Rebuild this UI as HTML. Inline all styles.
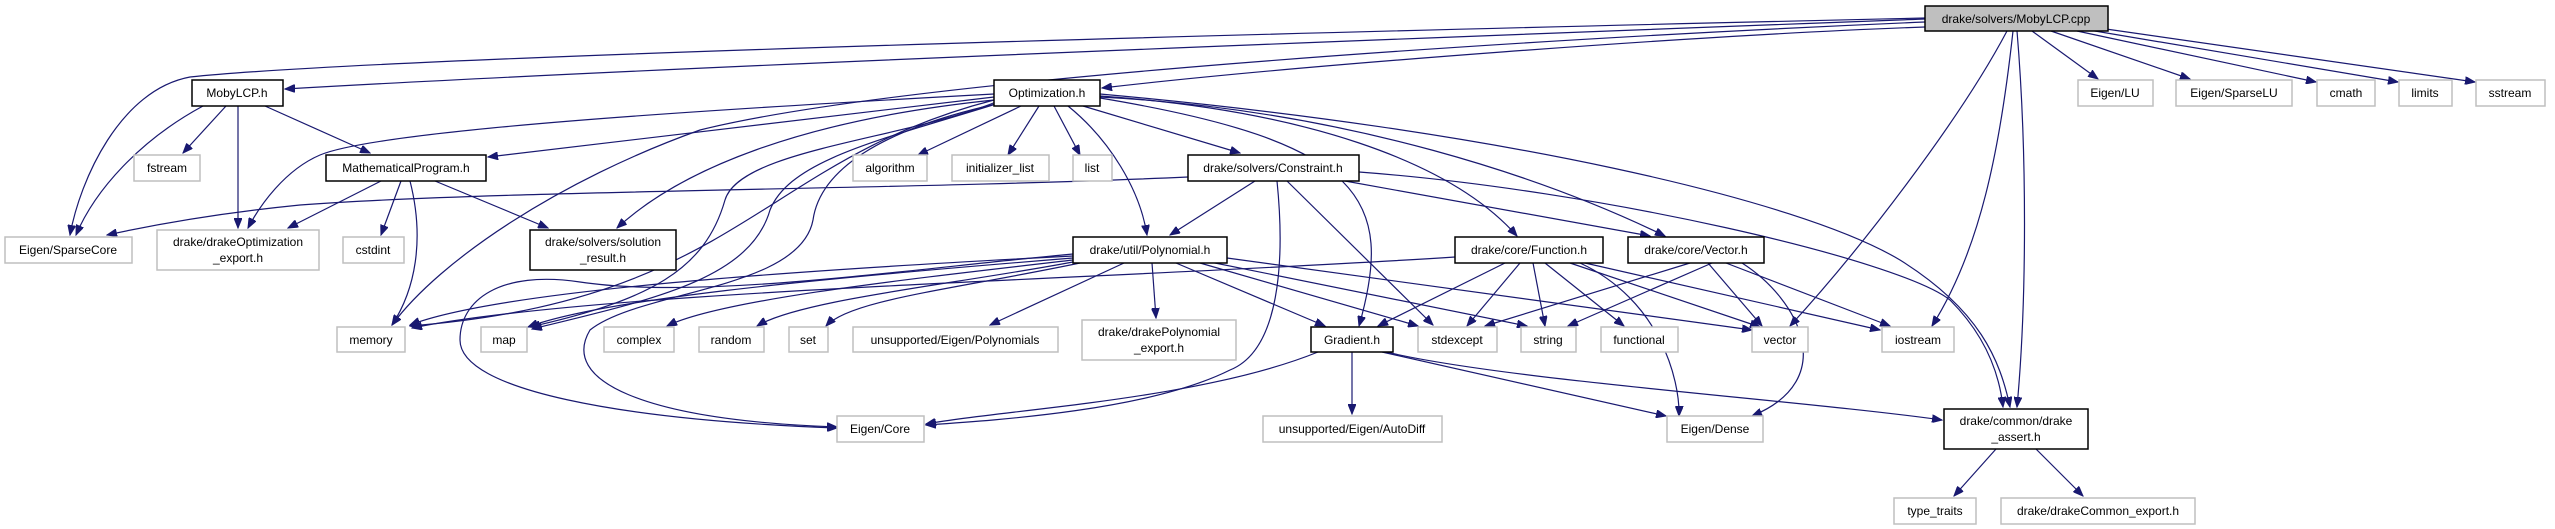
<!DOCTYPE html>
<html><head><meta charset="utf-8"><style>
html,body{margin:0;padding:0;background:#fff;}
svg{display:block;}
text{font-family:"Liberation Sans",Arial,sans-serif;font-size:12px;fill:#000;}
.g{fill:#fff;stroke:#bfbfbf;stroke-width:1.5;}
.b{fill:#fff;stroke:#000;stroke-width:1.5;}
path.e{fill:none;stroke:#191970;stroke-width:1.2;}
</style></head><body>
<svg width="2555" height="529" viewBox="0 0 2555 529" xmlns="http://www.w3.org/2000/svg">
<defs><marker id="a" markerWidth="11" markerHeight="8" refX="10" refY="4" orient="auto" markerUnits="userSpaceOnUse"><path d="M0,0 L10,4 L0,8 z" fill="#191970" stroke="#191970"/></marker></defs>
<g marker-end="url(#a)">
<path class="e" d="M1925,19 C1500,35 700,65 285,89"/>
<path class="e" d="M1925,18 C1400,30 400,55 190,77 C120,90 80,180 70,235"/>
<path class="e" d="M1925,27 C1700,35 1300,65 1102,88"/>
<path class="e" d="M1925,22 C1500,40 900,80 700,130 C560,180 440,260 392,325"/>
<path class="e" d="M2007,31 C1960,120 1860,250 1790,326"/>
<path class="e" d="M2013,31 C2000,150 1980,250 1932,326"/>
<path class="e" d="M2017,31 C2027,150 2027,300 2017,407"/>
<path class="e" d="M2032,31 L2098,79"/>
<path class="e" d="M2051,31 L2190,79"/>
<path class="e" d="M2077,31 L2316,82"/>
<path class="e" d="M2083,29 L2398,82"/>
<path class="e" d="M2106,29 L2475,82"/>
<path class="e" d="M203,106 C140,140 95,190 76,235"/>
<path class="e" d="M226,106 L183,153"/>
<path class="e" d="M238,106 L238,228"/>
<path class="e" d="M265,106 L370,153"/>
<path class="e" d="M381,181 L288,228"/>
<path class="e" d="M401,181 L381,235"/>
<path class="e" d="M410,181 C425,240 415,290 392,325"/>
<path class="e" d="M435,181 L548,228"/>
<path class="e" d="M994,94 C700,110 380,130 320,155 C285,170 260,205 248,228"/>
<path class="e" d="M994,97 L488,157"/>
<path class="e" d="M994,100 C800,120 680,170 617,228"/>
<path class="e" d="M994,100 C760,160 740,300 410,326"/>
<path class="e" d="M996,102 C900,140 740,150 725,200 C705,270 650,300 530,327"/>
<path class="e" d="M996,104 C880,140 790,160 770,210 C750,280 650,300 532,329"/>
<path class="e" d="M996,104 C880,130 820,170 813,220 C800,290 640,290 590,330 C560,380 640,420 837,427"/>
<path class="e" d="M1021,106 L918,155"/>
<path class="e" d="M1039,106 L1008,155"/>
<path class="e" d="M1054,106 L1080,155"/>
<path class="e" d="M1083,106 L1240,153"/>
<path class="e" d="M1068,106 C1110,140 1140,190 1147,235"/>
<path class="e" d="M1100,98 C1365,142 1395,200 1359,326"/>
<path class="e" d="M1100,96 C1300,110 1450,160 1517,236"/>
<path class="e" d="M1100,97 C1350,110 1550,180 1665,236"/>
<path class="e" d="M1100,94 C1500,130 1800,200 1900,260 C1980,310 2000,360 2010,407"/>
<path class="e" d="M1188,177 C900,190 500,190 300,205 C200,215 130,230 107,235"/>
<path class="e" d="M1255,181 L1170,235"/>
<path class="e" d="M1277,181 C1285,260 1280,350 1230,370 C1150,410 1000,420 926,425"/>
<path class="e" d="M1287,181 L1433,325"/>
<path class="e" d="M1345,181 L1650,236"/>
<path class="e" d="M1359,172 C1600,190 1900,260 1950,300 C1990,340 2000,380 2003,407"/>
<path class="e" d="M1073,256 C800,270 500,290 410,325"/>
<path class="e" d="M1073,258 C800,280 600,300 528,327"/>
<path class="e" d="M1073,260 C900,280 720,300 667,326"/>
<path class="e" d="M1073,262 C950,285 800,300 757,326"/>
<path class="e" d="M1080,263 C950,290 850,300 826,326"/>
<path class="e" d="M1124,263 L990,325"/>
<path class="e" d="M1152,263 L1156,318"/>
<path class="e" d="M1176,263 L1325,326"/>
<path class="e" d="M1200,263 L1418,326"/>
<path class="e" d="M1210,262 L1527,326"/>
<path class="e" d="M1227,258 L1752,330"/>
<path class="e" d="M1073,254 C900,270 700,300 580,282 C500,270 460,300 460,340 C460,390 620,420 837,428"/>
<path class="e" d="M1455,257 C1100,280 600,290 412,328"/>
<path class="e" d="M1505,263 L1378,326"/>
<path class="e" d="M1520,263 L1467,326"/>
<path class="e" d="M1533,263 L1545,326"/>
<path class="e" d="M1545,263 L1624,326"/>
<path class="e" d="M1570,263 L1760,327"/>
<path class="e" d="M1585,263 L1880,330"/>
<path class="e" d="M1580,263 C1660,300 1680,380 1679,416"/>
<path class="e" d="M1690,263 L1485,326"/>
<path class="e" d="M1712,263 L1568,326"/>
<path class="e" d="M1708,263 L1762,326"/>
<path class="e" d="M1726,263 L1890,326"/>
<path class="e" d="M1742,263 C1800,300 1840,380 1752,416"/>
<path class="e" d="M1318,352 C1200,400 1000,410 926,424"/>
<path class="e" d="M1352,352 L1352,414"/>
<path class="e" d="M1382,352 L1666,416"/>
<path class="e" d="M1382,351 C1500,380 1800,400 1942,420"/>
<path class="e" d="M1996,449 L1954,496"/>
<path class="e" d="M2036,449 L2083,496"/>
</g>
<g text-anchor="middle">
<rect x="1925" y="6" width="183" height="25" fill="#bfbfbf" stroke="#000" stroke-width="1.5"/><text x="2016" y="23">drake/solvers/MobyLCP.cpp</text>
<rect class="b" x="192" y="80" width="91" height="26"/><text x="237" y="97">MobyLCP.h</text>
<rect class="b" x="994" y="80" width="106" height="26"/><text x="1047" y="97">Optimization.h</text>
<rect class="g" x="2078" y="80" width="75" height="26"/><text x="2115" y="97">Eigen/LU</text>
<rect class="g" x="2176" y="80" width="116" height="26"/><text x="2234" y="97">Eigen/SparseLU</text>
<rect class="g" x="2317" y="80" width="58" height="26"/><text x="2346" y="97">cmath</text>
<rect class="g" x="2399" y="80" width="53" height="26"/><text x="2425" y="97">limits</text>
<rect class="g" x="2476" y="80" width="69" height="26"/><text x="2510" y="97">sstream</text>
<rect class="g" x="134" y="155" width="66" height="26"/><text x="167" y="172">fstream</text>
<rect class="b" x="326" y="155" width="160" height="26"/><text x="406" y="172">MathematicalProgram.h</text>
<rect class="g" x="853" y="155" width="74" height="26"/><text x="890" y="172">algorithm</text>
<rect class="g" x="952" y="155" width="97" height="26"/><text x="1000" y="172">initializer_list</text>
<rect class="g" x="1073" y="155" width="39" height="26"/><text x="1092" y="172">list</text>
<rect class="b" x="1188" y="155" width="171" height="26"/><text x="1273" y="172">drake/solvers/Constraint.h</text>
<rect class="g" x="5" y="237" width="127" height="26"/><text x="68" y="254">Eigen/SparseCore</text>
<rect class="g" x="157" y="230" width="162" height="40"/><text x="238" y="246">drake/drakeOptimization</text><text x="238" y="262">_export.h</text>
<rect class="g" x="343" y="237" width="61" height="26"/><text x="373" y="254">cstdint</text>
<rect class="b" x="530" y="230" width="146" height="40"/><text x="603" y="246">drake/solvers/solution</text><text x="603" y="262">_result.h</text>
<rect class="b" x="1073" y="237" width="154" height="26"/><text x="1150" y="254">drake/util/Polynomial.h</text>
<rect class="b" x="1455" y="237" width="148" height="26"/><text x="1529" y="254">drake/core/Function.h</text>
<rect class="b" x="1628" y="237" width="136" height="26"/><text x="1696" y="254">drake/core/Vector.h</text>
<rect class="g" x="337" y="327" width="68" height="25"/><text x="371" y="344">memory</text>
<rect class="g" x="481" y="327" width="46" height="25"/><text x="504" y="344">map</text>
<rect class="g" x="604" y="327" width="70" height="25"/><text x="639" y="344">complex</text>
<rect class="g" x="699" y="327" width="65" height="25"/><text x="731" y="344">random</text>
<rect class="g" x="789" y="327" width="39" height="25"/><text x="808" y="344">set</text>
<rect class="g" x="853" y="327" width="205" height="25"/><text x="955" y="344">unsupported/Eigen/Polynomials</text>
<rect class="g" x="1082" y="320" width="154" height="40"/><text x="1159" y="336">drake/drakePolynomial</text><text x="1159" y="352">_export.h</text>
<rect class="b" x="1311" y="327" width="82" height="25"/><text x="1352" y="344">Gradient.h</text>
<rect class="g" x="1418" y="327" width="79" height="25"/><text x="1457" y="344">stdexcept</text>
<rect class="g" x="1521" y="327" width="55" height="25"/><text x="1548" y="344">string</text>
<rect class="g" x="1601" y="327" width="77" height="25"/><text x="1639" y="344">functional</text>
<rect class="g" x="1752" y="327" width="56" height="25"/><text x="1780" y="344">vector</text>
<rect class="g" x="1882" y="327" width="72" height="25"/><text x="1918" y="344">iostream</text>
<rect class="g" x="837" y="416" width="87" height="26"/><text x="880" y="433">Eigen/Core</text>
<rect class="g" x="1263" y="416" width="179" height="26"/><text x="1352" y="433">unsupported/Eigen/AutoDiff</text>
<rect class="g" x="1667" y="416" width="96" height="26"/><text x="1715" y="433">Eigen/Dense</text>
<rect class="b" x="1944" y="409" width="144" height="40"/><text x="2016" y="425">drake/common/drake</text><text x="2016" y="441">_assert.h</text>
<rect class="g" x="1894" y="498" width="82" height="26"/><text x="1935" y="515">type_traits</text>
<rect class="g" x="2001" y="498" width="194" height="26"/><text x="2098" y="515">drake/drakeCommon_export.h</text>
</g>
</svg>
</body></html>
